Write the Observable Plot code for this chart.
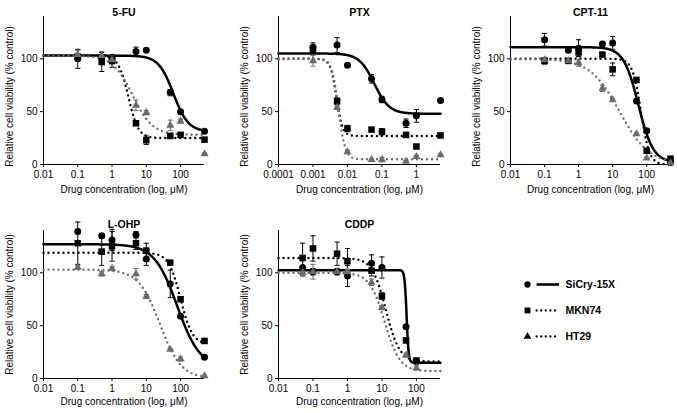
<!DOCTYPE html>
<html>
<head>
<meta charset="utf-8">
<script src="https://cdn.jsdelivr.net/npm/d3@7"></script>
<script src="https://cdn.jsdelivr.net/npm/@observablehq/plot@0.6"></script>
<style>
  body { margin: 0; background: #fff; }
  #chart { position: relative; width: 677px; height: 413px; background: #fff;
           font-family: "Liberation Sans", Arial, Helvetica, sans-serif; }
  #chart > div { position: absolute; }
</style>
</head>
<body>
<div id="chart"></div>
<script>
// ---------- series ----------
const seriesNames = ["SiCry-15X", "MKN74", "HT29"];
const seriesColors = ["#000000", "#000000", "#6b6b6b"];
const seriesSymbols = ["circle", "square", "triangle"];

// ---------- tick labels ----------
const xTicksStd = [0.01, 0.1, 1, 10, 100];
const xTicksPtx = [0.0001, 0.001, 0.01, 0.1, 1];
const yTicks = [0, 50, 100];
const yDomain = [0, 140];

// ---------- 5-FU ----------
const fuDomain = [0.01, 500];
const fuConc = [0.1, 0.5, 1, 5, 10, 50, 100, 500];
const fuSiCry = [100, 101, 100, 107, 108, 68, 50, 31.5];
const fuSiCrySd = [9, 3, 3, 4, 2, 3, 1, 1];
const fuMkn = [102, 97, 98, 39, 23, 27, 28, 23.5];
const fuMknSd = [2, 9, 6, 1, 4, 2, 2, 1];
const fuHt = [104, 103, 99, 56, 49, 37, 41, 10];
const fuHtSd = [4, 4, 4, 5, 2, 5, 2, 1];
// fit parameters: [top, bottom, IC50, Hill]
const fuFit = [[103, 31, 62, 2], [103, 25, 3, 3], [103, 28, 4, 1.5]];

// ---------- PTX ----------
const ptxDomain = [0.0001, 5];
const ptxConc = [0.001, 0.005, 0.01, 0.05, 0.1, 0.5, 1, 5];
const ptxSiCry = [111, 113, 94, 81, 61.5, 39, 46, 60.5];
const ptxSiCrySd = [4, 7, 1, 4, 3, 4, 6, 1];
const ptxMkn = [109, 60, 34, 33, 31, 28, 17, 27.5];
const ptxMknSd = [3, 3, 3, 2, 3, 1, 1, 1];
const ptxHt = [98, 54, 12, 4.5, 4.5, 3, 7.5, 9];
const ptxHtSd = [5, 2, 1, 1, 2, 1, 1, 1];
const ptxFit = [[105, 48, 0.06, 2], [100, 27, 0.0048, 5], [100, 5, 0.0055, 4.5]];

// ---------- CPT-11 ----------
const cptDomain = [0.01, 500];
const cptConc = [0.1, 0.5, 1, 5, 10, 50, 100, 500];
const cptSiCry = [118, 108, 110, 114, 115, 60, 32, 2];
const cptSiCrySd = [6, 1, 8, 2, 6, 2, 2, 1];
const cptMkn = [98, 98, 106, 104, 90, 80, 13, 5.5];
const cptMknSd = [3, 1, 4, 1, 6, 2, 1, 1];
const cptHt = [99, 98, 96, 72, 61, 29, 6, 1.5];
const cptHtSd = [2, 1, 3, 3, 1, 1, 1, 1];
const cptFit = [[111, 2, 57, 2], [100, 0, 68, 3.5], [100, 0, 16, 1]];

// ---------- L-OHP ----------
const lohpDomain = [0.01, 500];
const lohpConc = [0.1, 0.5, 1, 5, 10, 50, 100, 500];
const lohpSiCry = [139, 135, 131, 136, 113, 89.5, 59, 20];
const lohpSiCrySd = [2, 2, 10, 3, 6, 13, 2, 1];
const lohpMkn = [128, 120, 125, 128, 121, 109.6, 75, 35.5];
const lohpMknSd = [20, 13, 14, 6, 7, 2, 2, 1];
const lohpHt = [105, 99, 104, 99, 77.6, 27.5, 18.5, 2.5];
const lohpHtSd = [2, 2, 2, 5, 2, 1, 2, 1];
const lohpFit = [[127, 10, 80, 1.3], [119, 32, 100, 2.5], [103, 0, 25, 1.4]];

// ---------- CDDP ----------
const cddpDomain = [0.01, 500];
const cddpConc = [0.05, 0.1, 0.5, 1, 5, 10, 50, 100];
const cddpSiCry = [105, 101, 101, 97, 109, 105, 49, 16];
const cddpSiCrySd = [8, 3, 3, 10, 8, 10, 1, 2];
const cddpMkn = [114, 123, 118, 111, 102, 78, 36, 17];
const cddpMknSd = [14, 12, 11, 12, 5, 3, 2, 2];
const cddpHt = [100, 101, 101, 101, 91, 67, 22, 10];
const cddpHtSd = [2, 7, 2, 2, 3, 2, 2, 2];
const cddpFit = [[102.5, 15, 52, 15], [114, 16, 13, 2.2], [100, 7, 12, 2]];

// ---------- panels (data + layout) ----------
const panels = [
  {title: "5-FU", conc: fuConc, vals: [fuSiCry, fuMkn, fuHt], sds: [fuSiCrySd, fuMknSd, fuHtSd], fits: fuFit, domain: fuDomain, ticks: xTicksStd,
   left: 0, top: 0, width: 226, height: 206, ml: 43, mr: 22, mt: 16, mb: 42, titleDy: -8, xlabDy: 28, ylabDy: 6},
  {title: "PTX", conc: ptxConc, vals: [ptxSiCry, ptxMkn, ptxHt], sds: [ptxSiCrySd, ptxMknSd, ptxHtSd], fits: ptxFit, domain: ptxDomain, ticks: xTicksPtx,
   left: 226, top: 0, width: 226, height: 206, ml: 52, mr: 12, mt: 16, mb: 42, titleDy: -8, xlabDy: 28, ylabDy: 6},
  {title: "CPT-11", conc: cptConc, vals: [cptSiCry, cptMkn, cptHt], sds: [cptSiCrySd, cptMknSd, cptHtSd], fits: cptFit, domain: cptDomain, ticks: xTicksStd,
   left: 452, top: 0, width: 225, height: 206, ml: 58, mr: 7, mt: 16, mb: 42, titleDy: -8, xlabDy: 28, ylabDy: 6},
  {title: "L-OHP", conc: lohpConc, vals: [lohpSiCry, lohpMkn, lohpHt], sds: [lohpSiCrySd, lohpMknSd, lohpHtSd], fits: lohpFit, domain: lohpDomain, ticks: xTicksStd,
   left: 0, top: 206, width: 226, height: 207, ml: 43, mr: 22, mt: 24, mb: 35, titleDy: -10, xlabDy: 26, ylabDy: 0},
  {title: "CDDP", conc: cddpConc, vals: [cddpSiCry, cddpMkn, cddpHt], sds: [cddpSiCrySd, cddpMknSd, cddpHtSd], fits: cddpFit, domain: cddpDomain, ticks: xTicksStd,
   left: 226, top: 206, width: 226, height: 207, ml: 52, mr: 12, mt: 24, mb: 35, titleDy: -10, xlabDy: 26, ylabDy: 0}
];

const FONT = "Liberation Sans, Arial, Helvetica, sans-serif";
const capSymbol = {draw(ctx) { ctx.moveTo(-2.6, 0); ctx.lineTo(2.6, 0); }};
const symbolR = {circle: 3.5, square: 3.7, triangle: 3.0};

function logistic(fit, domain, n = 400) {
  const [top, bottom, ic50, hill] = fit;
  const l0 = Math.log10(domain[0]), l1 = Math.log10(domain[1]);
  return d3.range(n + 1).map(i => {
    const c = Math.pow(10, l0 + (l1 - l0) * i / n);
    return {c, v: bottom + (top - bottom) / (1 + Math.pow(c / ic50, hill))};
  });
}

const chart = document.getElementById("chart");

for (const p of panels) {
  const marks = [];
  // axis lines
  marks.push(Plot.ruleY([yDomain[0]], {stroke: "#000", strokeWidth: 1}));
  marks.push(Plot.ruleX([p.domain[0]], {stroke: "#000", strokeWidth: 1}));
  marks.push(Plot.axisX(p.ticks, {tickSize: 3, tickPadding: 3, tickFormat: d => String(d), label: null, fontSize: 10}));
  marks.push(Plot.axisY(yTicks, {tickSize: 3, tickPadding: 3, label: null, fontSize: 10}));

  // fitted curves
  seriesNames.forEach((s, k) => {
    marks.push(Plot.line(logistic(p.fits[k], p.domain), {
      x: "c", y: "v", stroke: seriesColors[k],
      strokeWidth: k === 0 ? 2.5 : 2.4,
      strokeDasharray: k === 0 ? null : "0,5",
      strokeLinecap: "round"
    }));
  });

  // points + error bars
  seriesNames.forEach((s, k) => {
    const rows = p.conc.map((c, i) => ({c, v: p.vals[k][i], sd: p.sds[k][i]}));
    marks.push(Plot.ruleX(rows, {x: "c", y1: d => d.v - d.sd, y2: d => d.v + d.sd, stroke: seriesColors[k], strokeWidth: 1}));
    marks.push(Plot.dot(rows, {x: "c", y: d => d.v + d.sd, symbol: capSymbol, stroke: seriesColors[k], fill: "none", strokeWidth: 1}));
    marks.push(Plot.dot(rows, {x: "c", y: d => d.v - d.sd, symbol: capSymbol, stroke: seriesColors[k], fill: "none", strokeWidth: 1}));
  });
  seriesNames.forEach((s, k) => {
    const rows = p.conc.map((c, i) => ({c, v: p.vals[k][i]}));
    marks.push(Plot.dot(rows, {x: "c", y: "v", symbol: seriesSymbols[k], fill: seriesColors[k], stroke: "none", r: symbolR[seriesSymbols[k]]}));
  });

  // texts
  marks.push(Plot.text([p.title], {text: d => d, frameAnchor: "top", dy: p.titleDy, fontWeight: "bold", fontSize: 10.5, fill: "#000"}));
  marks.push(Plot.text(["Drug concentration (log, \u03bcM)"], {text: d => d, frameAnchor: "bottom", dy: p.xlabDy, fontSize: 10, fill: "#000"}));
  marks.push(Plot.text(["Relative cell viability (% control)"], {text: d => d, frameAnchor: "left", textAnchor: "middle", rotate: -90, dx: -34, dy: p.ylabDy, fontSize: 10, fill: "#000"}));

  const svg = Plot.plot({
    width: p.width, height: p.height,
    marginLeft: p.ml, marginRight: p.mr, marginTop: p.mt, marginBottom: p.mb,
    x: {type: "log", domain: p.domain},
    y: {type: "linear", domain: yDomain},
    style: {fontFamily: FONT, fontSize: "10px", background: "transparent", overflow: "visible", color: "#000"},
    marks
  });
  const wrap = document.createElement("div");
  wrap.style.left = p.left + "px";
  wrap.style.top = p.top + "px";
  wrap.appendChild(svg);
  chart.appendChild(wrap);
}

// ---------- legend ----------
const legendRows = seriesNames.map((name, k) => ({name, color: seriesColors[k], symbol: seriesSymbols[k]}));
const legendMarks = [];
legendRows.forEach((row, k) => {
  legendMarks.push(Plot.ruleY([row], {y: "name", x1: 0.3, x2: 1, stroke: "#000",
    strokeWidth: k === 0 ? 2.6 : 2.3, strokeDasharray: k === 0 ? null : "0,4.6", strokeLinecap: k === 0 ? "butt" : "round"}));
});
legendMarks.push(Plot.dot(legendRows, {x: 0, y: "name", symbol: "symbol", fill: "#000", stroke: "none",
  r: d => d.symbol === "circle" ? 4.4 : d.symbol === "square" ? 4.9 : 3.6}));
legendMarks.push(Plot.text(legendRows, {x: 1, y: "name", text: "name", dx: 6, textAnchor: "start", fontWeight: "bold", fontSize: 10.5, fill: "#000"}));

const legend = Plot.plot({
  width: 150, height: 120, margin: 0,
  x: {type: "linear", domain: [0, 1], range: [27, 59], axis: null},
  y: {type: "point", domain: seriesNames, range: [21, 99], axis: null},
  symbol: {type: "identity"},
  style: {fontFamily: FONT, fontSize: "10px", background: "transparent", overflow: "visible"},
  marks: legendMarks
});
const lw = document.createElement("div");
lw.style.left = "500px";
lw.style.top = "250px";
lw.appendChild(legend);
chart.appendChild(lw);
</script>
</body>
</html>
